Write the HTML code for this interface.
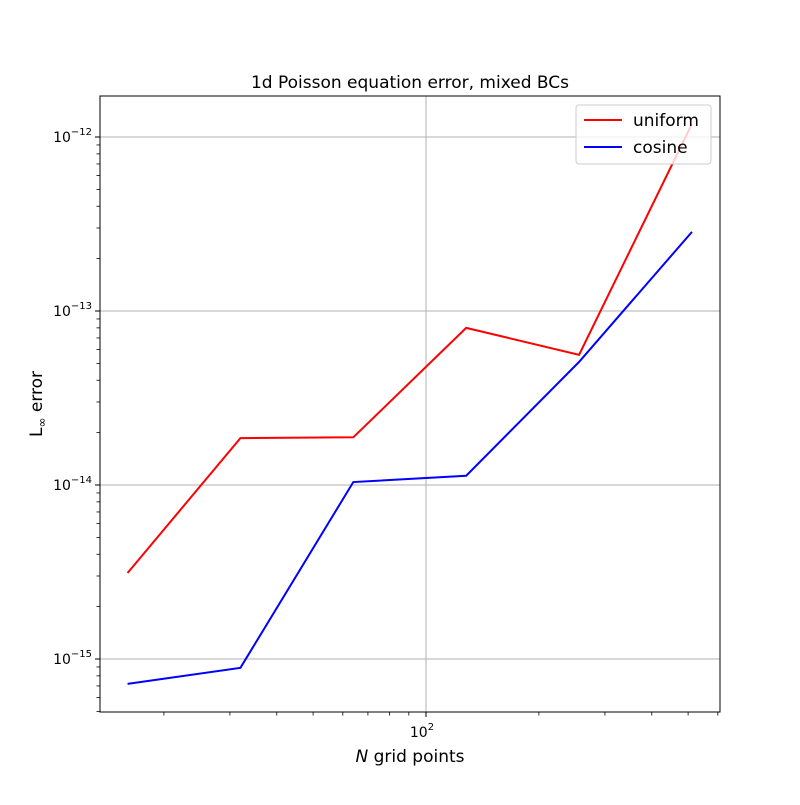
<!DOCTYPE html>
<html><head><meta charset="utf-8"><style>
body{margin:0;background:#fff;}
svg text{font-family:"DejaVu Sans","Liberation Sans",sans-serif;}
</style></head><body>
<svg id="chart" width="800" height="800">
<rect width="800" height="800" fill="#fff"/>
<g id="grid"></g><g id="ticks"></g><g id="lines"></g>
<rect x="100" y="96" width="620" height="616" fill="none" stroke="#000" stroke-width="1"/>
<text x="410" y="88" font-size="17" text-anchor="middle">1d Poisson equation error, mixed BCs</text>
<text x="410" y="762" font-size="17" text-anchor="middle"><tspan font-style="italic">N</tspan> grid points</text>
<text transform="translate(42,404) rotate(-90)" font-size="17" text-anchor="middle">L<tspan font-size="12" dy="4">∞</tspan><tspan dy="-4"> error</tspan></text>
<g>
<rect x="576" y="105" width="135" height="59" rx="3" fill="#fff" fill-opacity="0.8" stroke="#ccc"/>
<line x1="584" y1="120" x2="622" y2="120" stroke="#f00" stroke-width="2"/>
<text x="633" y="126" font-size="17">uniform</text>
<line x1="584" y1="147" x2="622" y2="147" stroke="#00f" stroke-width="2"/>
<text x="633" y="153" font-size="17">cosine</text>
</g>
</svg>
<script>
const gridN=[16,32,64,128,256,512];
const uniformErr=[3.12e-15,1.86e-14,1.88e-14,8.0e-14,5.6e-14,1.19e-12];
const cosineErr=[7.2e-16,8.9e-16,1.04e-14,1.13e-14,5.1e-14,2.85e-13];
const yDecades=[-15,-14,-13,-12];
const NS="http://www.w3.org/2000/svg";
function xs(n){return 426+375*Math.log10(n/100);}
function ys(v){return 137-174*(Math.log10(v)+12);}
function mk(tag,attrs,parent){const e=document.createElementNS(NS,tag);for(const k in attrs)e.setAttribute(k,attrs[k]);parent.appendChild(e);return e;}
const grid=document.getElementById('grid'),ticks=document.getElementById('ticks'),lines=document.getElementById('lines');
{const x=xs(100);
const g=mk('line',{x1:x,y1:96,x2:x,y2:712,stroke:'#b0b0b0','stroke-width':1},grid);

mk('line',{x1:x,y1:712,x2:x,y2:717,stroke:'#000'},ticks);
const t=mk('text',{x:x-4,y:737,'font-size':14,'text-anchor':'middle'},ticks);

t.innerHTML='10<tspan font-size="10" dy="-7">2</tspan>';}
for(const d of [10,100])for(let m=1;m<10;m++){const n=d*m;if(n===100)continue;const x=xs(n);if(x<100||x>720)continue;
mk('line',{x1:x,y1:712,x2:x,y2:715.5,stroke:'#000','stroke-width':0.8},ticks);}
yDecades.forEach(p=>{const y=ys(Math.pow(10,p));
const g=mk('line',{x1:100,y1:y,x2:720,y2:y,stroke:'#b0b0b0','stroke-width':1},grid);

mk('line',{x1:95,y1:y,x2:100,y2:y,stroke:'#000'},ticks);
const t=mk('text',{x:92,y:y+5,'font-size':14,'text-anchor':'end'},ticks);

t.innerHTML='10<tspan font-size="10" dy="-7">'+'\u2212'+(-p)+'</tspan>';});
for(let p=-16;p<=-12;p++)for(let m=2;m<10;m++){const y=ys(m*Math.pow(10,p));if(y<96||y>712)continue;
mk('line',{x1:96.5,y1:y,x2:100,y2:y,stroke:'#000','stroke-width':0.8},ticks);}
function series(vals,color,name){const pts=gridN.map((n,i)=>xs(n)+','+ys(vals[i])).join(' ');
const p=mk('polyline',{points:pts,fill:'none',stroke:color,'stroke-width':2},lines);
}
series(uniformErr,'#f00','uniform-line');
series(cosineErr,'#00f','cosine-line');
</script>
</body></html>
